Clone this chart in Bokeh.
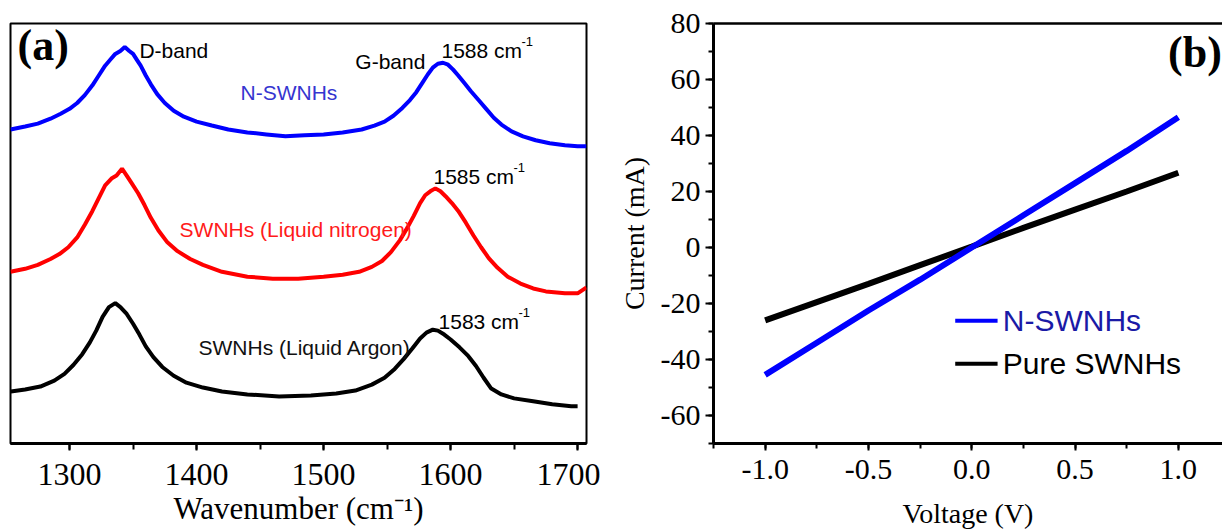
from bokeh.plotting import figure
from bokeh.layouts import row
from bokeh.models import (Label, LinearAxis, SingleIntervalTicker, FixedTicker, Range1d,
                          PrintfTickFormatter)
from bokeh.embed import file_html
from bokeh.resources import INLINE

# ---------------- (a) Raman spectra (offset, a.u.) ----------------
wn_n = [1253.5, 1265, 1275, 1285, 1293, 1300, 1306, 1312, 1318, 1323, 1328, 1332, 1336, 1340, 1343.5,
        1347, 1350, 1353, 1356, 1360, 1364, 1369, 1375, 1382, 1390, 1400, 1412, 1425, 1440, 1455,
        1470, 1485, 1500, 1515, 1530, 1540, 1548, 1555, 1562, 1568, 1573, 1578, 1582, 1586, 1590,
        1594, 1598, 1602, 1606, 1611, 1616, 1622, 1628, 1634, 1640, 1648, 1657, 1667, 1678, 1690,
        1700, 1707]
int_n = [320, 323, 326, 331, 336, 341, 347, 355, 365, 375, 385, 391, 397, 400, 404,
         400, 397, 391, 385, 375, 366, 356, 347, 339, 333, 328, 324, 320, 317, 315,
         313, 314, 315, 317, 320, 324, 328, 334, 342, 350, 358, 368, 376, 383, 387,
         388, 386, 381, 375, 367, 359, 350, 341, 332, 325, 318, 313, 309, 306, 304,
         303, 303]

wn_ln2 = [1253.5, 1265, 1275, 1285, 1292, 1299, 1306, 1312, 1318, 1323, 1328, 1333, 1337, 1341.3,
          1345, 1349, 1354, 1359, 1364, 1370, 1377, 1385, 1395, 1405, 1420, 1440, 1460, 1480, 1500,
          1515, 1528, 1538, 1546, 1553, 1560, 1566, 1571, 1576, 1580, 1584, 1588, 1592, 1596, 1601,
          1606, 1612, 1618, 1624, 1630, 1637, 1645, 1655, 1665, 1675, 1690, 1700, 1707]
int_ln2 = [175, 178, 182, 188, 193, 200, 210, 223, 237, 250, 263, 270, 273, 280,
           273, 265, 255, 243, 230, 217, 205, 196, 188, 182, 175, 170, 168, 168, 170,
           172, 175, 180, 186, 195, 207, 220, 232, 245, 253, 257, 260, 257, 252, 245,
           237, 225, 212, 200, 189, 179, 170, 163, 158, 155, 153, 153, 159]

wn_ar = [1253.8, 1265, 1277, 1288, 1296, 1303, 1310, 1316, 1321, 1326, 1331, 1336, 1340, 1345,
         1350, 1355, 1360, 1366, 1373, 1382, 1392, 1405, 1420, 1440, 1465, 1490, 1510, 1525, 1538,
         1548, 1556, 1563, 1570, 1576, 1581, 1586, 1590, 1595, 1600, 1607, 1614, 1620, 1626, 1632,
         1640, 1650, 1665, 1680, 1695, 1700]
int_ar = [53, 55, 58, 64, 71, 80, 91, 103, 115, 129, 139, 143, 139, 132,
          122, 111, 99, 88, 78, 69, 62, 57, 53, 50, 48, 49, 51, 54, 60,
          67, 76, 86, 97, 107, 113, 116, 115, 111, 106, 98, 89, 79, 67, 56,
          50, 46, 43, 40, 38, 38]

wn_ticks_interval = 100

# ---------------- (b) I-V curves ----------------
voltage = [-1.0, -0.75, -0.5, -0.25, 0.0, 0.25, 0.5, 0.75, 1.0]
current_n = [-45.5, -34.0, -22.5, -11.5, 0.0, 11.5, 23.0, 34.5, 46.5]
current_pure = [-26.0, -19.5, -13.0, -6.3, 0.3, 7.0, 13.5, 20.0, 26.7]

SERIF = "Liberation Serif"
SANS = "Liberation Sans"

def lab(p, x, y, text, size, color="black", font=SANS, style="normal", align="left", xo=0, yo=0):
    p.add_layout(Label(x=x, y=y, text=text, text_font=font, text_font_size=size,
                       text_color=color, text_font_style=style, text_align=align,
                       text_baseline="middle", x_offset=xo, y_offset=yo))

# ================= panel (a) =================
p1 = figure(width=600, height=531, x_range=Range1d(1253.5, 1707), y_range=Range1d(0, 428),
            output_backend="svg", toolbar_location=None,
            min_border_left=10, min_border_right=14, min_border_top=17, min_border_bottom=86)
p1.yaxis.visible = False
p1.grid.visible = False
p1.outline_line_color = "black"
p1.outline_line_width = 2
p1.background_fill_color = "white"
p1.border_fill_color = "white"
xa = p1.xaxis[0]
xa.ticker = SingleIntervalTicker(interval=wn_ticks_interval, num_minor_ticks=2)
xa.axis_line_width = 3
xa.major_tick_out = 7
xa.major_tick_in = 0
xa.minor_tick_out = 6
xa.minor_tick_in = 0
xa.major_tick_line_width = 2
xa.minor_tick_line_width = 2
xa.major_label_text_font = SERIF
xa.major_label_text_font_size = "32px"
xa.major_label_text_color = "black"
xa.major_label_standoff = 13
xa.axis_label = "Wavenumber (cm\u207b\u00b9)"
xa.axis_label_text_font = SERIF
xa.axis_label_text_font_size = "31px"
xa.axis_label_text_font_style = "normal"
xa.axis_label_text_color = "black"
xa.axis_label_standoff = 3

p1.line(wn_n, int_n, line_color="#0000ff", line_width=4)
p1.line(wn_ln2, int_ln2, line_color="#ff0000", line_width=4)
p1.line(wn_ar, int_ar, line_color="#000000", line_width=4)

lab(p1, 1259, 406, "(a)", "44px", font=SERIF, style="bold")
lab(p1, 1355, 400, "D-band", "21px")
lab(p1, 1525, 389, "G-band", "21px")
lab(p1, 1592.8, 400, "1588 cm", "21px")
lab(p1, 1592.8, 400, "-1", "13px", xo=80, yo=9)
lab(p1, 1434.6, 358, "N-SWNHs", "21px", color="#3535d0")
lab(p1, 1586.5, 272, "1585 cm", "21px")
lab(p1, 1586.5, 272, "-1", "13px", xo=80, yo=9)
lab(p1, 1386.6, 218, "SWNHs (Liquid nitrogen)", "21px", color="#ff1a1a")
lab(p1, 1590.5, 124, "1583 cm", "21px")
lab(p1, 1590.5, 124, "-1", "13px", xo=80, yo=9)
lab(p1, 1401.5, 98, "SWNHs (Liquid Argon)", "21px", color="#111111")

# ================= panel (b) =================
p2 = figure(width=622, height=531, x_range=Range1d(-1.25, 1.2137), y_range=Range1d(-70, 80),
            output_backend="svg", toolbar_location=None,
            min_border_left=113, min_border_right=0, min_border_top=23, min_border_bottom=87)
p2.grid.visible = False
p2.outline_line_color = None
p2.background_fill_color = "white"
p2.border_fill_color = "white"

for ax in (p2.xaxis[0], p2.yaxis[0]):
    ax.axis_line_width = 3
    ax.major_tick_in = 0
    ax.minor_tick_in = 0
    ax.major_tick_line_width = 2
    ax.minor_tick_line_width = 2
    ax.major_label_text_font = SERIF
    ax.major_label_text_font_size = "30px"
    ax.major_label_text_color = "black"
    ax.axis_label_text_font = SERIF
    ax.axis_label_text_font_size = "28px"
    ax.axis_label_text_font_style = "normal"
    ax.axis_label_text_color = "black"

xb = p2.xaxis[0]
xb.ticker = SingleIntervalTicker(interval=0.5, num_minor_ticks=2)
xb.formatter = PrintfTickFormatter(format="%.1f")
xb.major_tick_out = 7
xb.minor_tick_out = 5
xb.major_label_standoff = 9
xb.axis_label = "Voltage (V)"
xb.axis_label_standoff = 16

yb = p2.yaxis[0]
yb.ticker = SingleIntervalTicker(interval=20, num_minor_ticks=2)
yb.formatter = PrintfTickFormatter(format="%d")
yb.major_tick_out = 8
yb.minor_tick_out = 5
yb.major_label_standoff = 5
yb.axis_label = "Current (mA)"
yb.axis_label_standoff = 8

top = LinearAxis(ticker=FixedTicker(ticks=[]), axis_line_width=2.5,
                 major_tick_line_color=None, minor_tick_line_color=None)
p2.add_layout(top, "above")

p2.line(voltage, current_pure, line_color="#000000", line_width=6)
p2.line(voltage, current_n, line_color="#0000ff", line_width=6)

# legend (drawn by hand)
LEG_X0, LEG_X1, LEG_TX = -0.08, 0.125, 0.15
LEG_Y = [-26.2, -41.5]
p2.segment(x0=[LEG_X0], y0=[LEG_Y[0]], x1=[LEG_X1], y1=[LEG_Y[0]], line_color="#0000ff", line_width=4)
p2.segment(x0=[LEG_X0], y0=[LEG_Y[1]], x1=[LEG_X1], y1=[LEG_Y[1]], line_color="#000000", line_width=4)
lab(p2, LEG_TX, LEG_Y[0], "N-SWNHs", "30px", color="#1a1aa6")
lab(p2, LEG_TX, LEG_Y[1], "Pure SWNHs", "30px", color="black")
lab(p2, 0.95, 69.7, "(b)", "44px", font=SERIF, style="bold")

layout = row(p1, p2)
open("out.html", "w").write(file_html(layout, INLINE))
